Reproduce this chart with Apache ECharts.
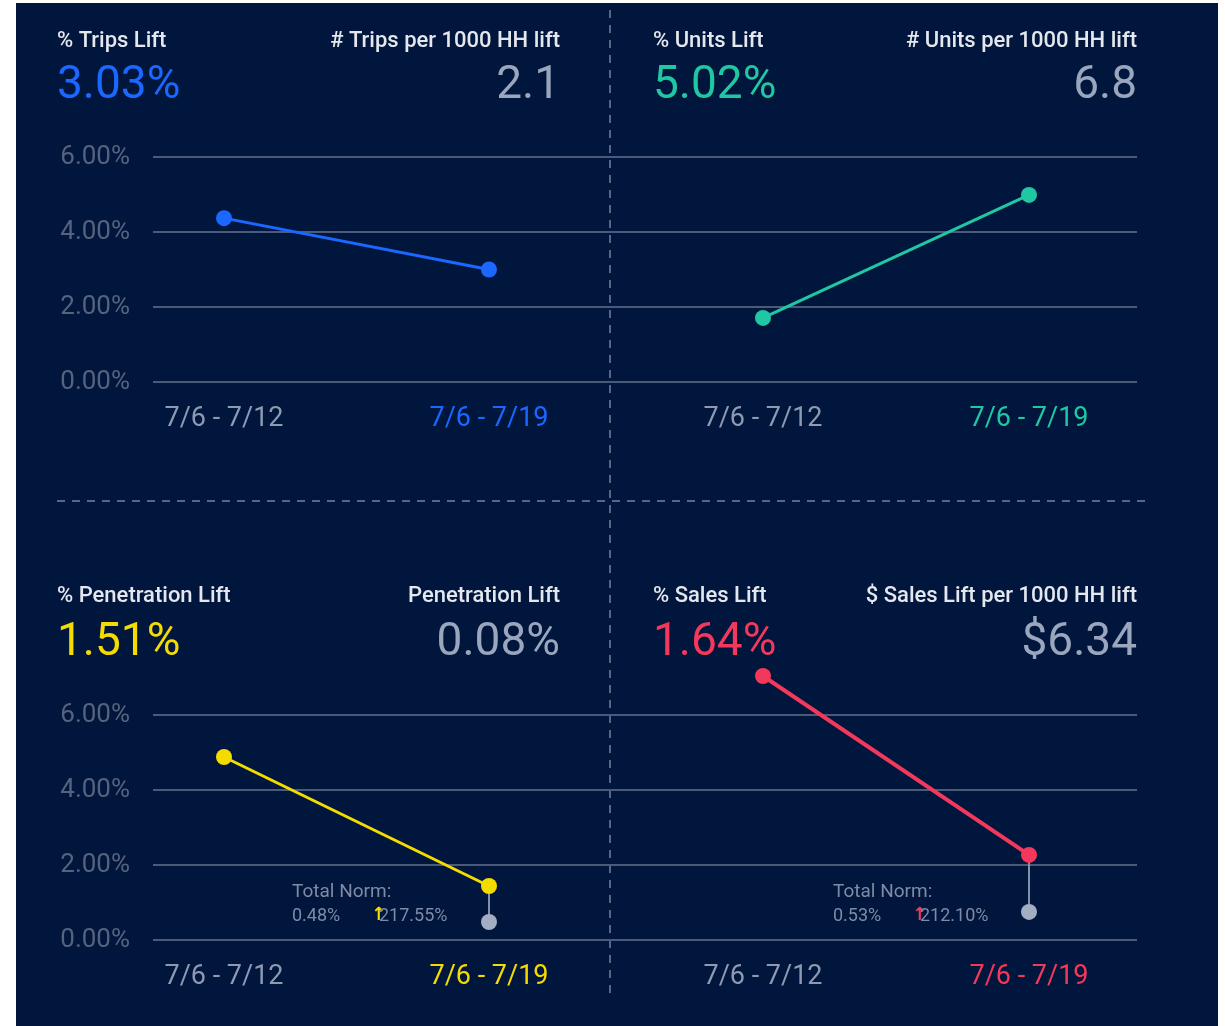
<!DOCTYPE html>
<html>
<head>
<meta charset="utf-8">
<script src="https://cdn.jsdelivr.net/npm/echarts@6/dist/echarts.min.js"></script>
<style>
  html, body { margin: 0; padding: 0; background: #fff; }
  #chart { width: 1225px; height: 1026px; }
</style>
</head>
<body>
<div id="chart"></div>
<script>
// 數據
const categories = ['7/6 - 7/12', '7/6 - 7/19'];
const tripsLift = [4.37, 3.00];
const unitsLift = [1.71, 4.99];
const penetrationLift = [4.88, 1.44];
const salesLift = [7.04, 2.27];
const penetrationNorm = 0.48;
const salesNorm = 0.75;

const panelTitles = ['% Trips Lift', '% Units Lift', '% Penetration Lift', '% Sales Lift'];
const panelValues = ['3.03%', '5.02%', '1.51%', '1.64%'];
const sideTitles = ['# Trips per 1000 HH lift', '# Units per 1000 HH lift', 'Penetration Lift', '$ Sales Lift per 1000 HH lift'];
const sideValues = ['2.1', '6.8', '0.08%', '$6.34'];
const normValues = ['0.48%', '0.53%'];
const normChange = ['217.55%', '212.10%'];

const colors = ['#1a68ff', '#1fc7a3', '#f4dc00', '#f4385c'];
const bg = '#01163c';
const gridColor = '#4b5a78';
const dimText = '#56637e';
const grayText = '#8e9ab2';

const myChart = echarts.init(document.getElementById('chart'));

// 每個面板的位置
const panels = [
  { x0: 57, x1: 560, titleY: 41, valueY: 86, p0: 224, p1: 489, top: 157 },
  { x0: 653, x1: 1137, titleY: 41, valueY: 86, p0: 763, p1: 1029, top: 157 },
  { x0: 57, x1: 560, titleY: 596, valueY: 643, p0: 224, p1: 489, top: 715 },
  { x0: 653, x1: 1137, titleY: 596, valueY: 643, p0: 763, p1: 1029, top: 715 }
];
const seriesData = [tripsLift, unitsLift, penetrationLift, salesLift];
const font = 'Roboto';

const grid = [];
const xAxis = [];
const yAxis = [];
const series = [];

// 背景格線 (上下兩列)
[157, 715].forEach((top, i) => {
  grid.push({ left: 153, right: 88, top: top, height: 225 });
  xAxis.push({ type: 'value', gridIndex: i, show: false });
  yAxis.push({
    type: 'value', gridIndex: i, min: 0, max: 6, interval: 2,
    axisLine: { show: false }, axisTick: { show: false },
    axisLabel: {
      formatter: v => v.toFixed(2) + '%', color: dimText,
      fontFamily: font, fontSize: 26, margin: 23, padding: [5, 0, 0, 0]
    },
    splitLine: { lineStyle: { color: gridColor, width: 2 } }
  });
});

// 折線圖
panels.forEach((p, i) => {
  const gi = grid.length;
  grid.push({ left: p.p0, right: 1225 - p.p1, top: p.top, height: 225 });
  xAxis.push({
    type: 'category', gridIndex: gi, data: categories, boundaryGap: false,
    axisLine: { show: false }, axisTick: { show: false },
    axisLabel: {
      interval: 0, fontFamily: font, fontSize: 27, margin: 24,
      color: (v, idx) => idx === 1 ? colors[i] : grayText
    }
  });
  yAxis.push({ type: 'value', gridIndex: gi, min: 0, max: 6, show: false });
  series.push({
    type: 'line', xAxisIndex: gi, yAxisIndex: gi, data: seriesData[i],
    clip: false, symbol: 'circle', symbolSize: 16, z: 5,
    itemStyle: { color: colors[i] },
    lineStyle: { color: colors[i], width: i === 3 ? 4 : 3 }
  });
  if (i >= 2) {
    const norm = i === 2 ? penetrationNorm : salesNorm;
    series.push({
      type: 'line', xAxisIndex: gi, yAxisIndex: gi, clip: false, z: 3,
      symbol: 'circle',
      data: [
        { value: [categories[1], seriesData[i][1]], symbolSize: 0 },
        { value: [categories[1], norm], symbolSize: 16 }
      ],
      itemStyle: { color: '#a4aec3' },
      lineStyle: { color: '#8290aa', width: 2 }
    });
  }
});

// 文字與分隔線
const graphic = [
  { type: 'rect', z: -100, shape: { x: 16, y: 3, width: 1202, height: 1023 }, style: { fill: bg } },
  { type: 'line', shape: { x1: 610, y1: 10, x2: 610, y2: 1000 }, style: { stroke: '#5b6782', lineWidth: 2, lineDash: [8, 7] } },
  { type: 'line', shape: { x1: 57, y1: 501, x2: 1147, y2: 501 }, style: { stroke: '#5b6782', lineWidth: 2, lineDash: [8, 7] } }
];
panels.forEach((p, i) => {
  graphic.push(
    { type: 'text', style: { x: p.x0, y: p.titleY, text: panelTitles[i], fill: '#e4e7ee', font: '500 22px Roboto', verticalAlign: 'middle' } },
    { type: 'text', style: { x: p.x0, y: p.valueY, text: panelValues[i], fill: colors[i], font: '46px Roboto', verticalAlign: 'middle' } },
    { type: 'text', style: { x: p.x1, y: p.titleY, text: sideTitles[i], fill: '#e4e7ee', font: '500 22px Roboto', align: 'right', verticalAlign: 'middle' } },
    { type: 'text', style: { x: p.x1, y: p.valueY, text: sideValues[i], fill: '#9aa6bd', font: '46px Roboto', align: 'right', verticalAlign: 'middle' } }
  );
});
[[292, 371, 2], [833, 912, 3]].forEach(([x, ax, ci], k) => {
  graphic.push(
    { type: 'text', style: { x: x, y: 892, text: 'Total Norm:', fill: '#7e8ba6', font: '19px Roboto', verticalAlign: 'middle' } },
    { type: 'text', style: { x: x, y: 916, text: normValues[k], fill: '#7e8ba6', font: '18px Roboto', verticalAlign: 'middle' } },
    { type: 'text', style: { x: ax, y: 915, text: '↑', fill: colors[ci], font: 'bold 18px "DejaVu Sans"', verticalAlign: 'middle' } },
    { type: 'text', style: { x: ax + 8, y: 916, text: normChange[k], fill: '#7e8ba6', font: '18px Roboto', verticalAlign: 'middle' } }
  );
});

myChart.setOption({
  backgroundColor: '#fff',
  animation: false,
  grid: grid,
  xAxis: xAxis,
  yAxis: yAxis,
  series: series,
  graphic: graphic
});
</script>
</body>
</html>
